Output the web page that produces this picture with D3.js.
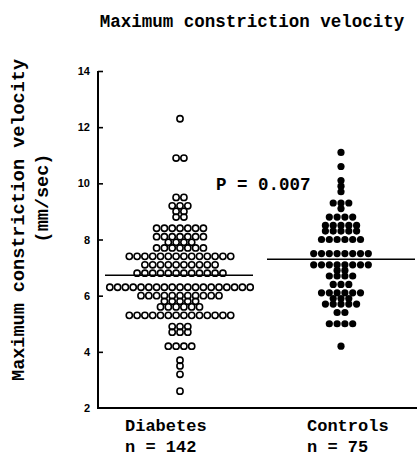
<!DOCTYPE html>
<html>
<head>
<meta charset="utf-8">
<script src="https://cdn.jsdelivr.net/npm/d3@7"></script>
<style>
  html, body { margin: 0; padding: 0; background: #fff; }
  svg { display: block; }
</style>
</head>
<body>
<svg id="chart" width="419" height="456"></svg>
<script>
// ---- data ----
const categories = ["Diabetes", "Controls"];
const sampleSizes = [142, 75];
const yTicks = [2, 4, 6, 8, 10, 12, 14];

// value levels (mm/sec) and how many subjects share each level
const diabetesLevels = [12.3, 10.9, 9.5, 9.2, 9.0, 8.8, 8.4, 8.1, 7.9, 7.7, 7.4, 7.1, 6.8, 6.3, 6.0, 5.8, 5.6, 5.3, 4.9, 4.7, 4.2, 3.7, 3.5, 3.2, 2.6];
const diabetesCounts = [1, 2, 2, 3, 2, 2, 7, 7, 4, 7, 14, 10, 12, 19, 11, 5, 6, 14, 3, 3, 4, 1, 1, 1, 1];

const controlLevels = [11.1, 10.6, 10.1, 9.9, 9.7, 9.3, 9.1, 8.8, 8.5, 8.3, 8.0, 7.5, 7.1, 6.9, 6.7, 6.4, 6.1, 5.9, 5.7, 5.4, 5.0, 4.2];
const controlCounts = [1, 1, 1, 1, 1, 3, 1, 4, 5, 5, 6, 8, 8, 2, 4, 3, 6, 3, 5, 2, 4, 1];

const groupMeans = [6.73, 7.3];
const pText = "P = 0.007";
const title = "Maximum constriction velocity";
const yTitle = "Maximum constriction velocity";
const yUnits = "(mm/sec)";

// ---- drawing ----
const svg = d3.select("#chart");
const mono = "'Liberation Mono', 'DejaVu Sans Mono', monospace";

const y = d3.scaleLinear().domain([2, 14]).range([408, 71]);
const x = d3.scalePoint().domain(categories).range([180, 341]);
const step = 7.8;

function expand(levels, counts) {
  const pts = [];
  levels.forEach((v, k) => {
    const n = counts[k];
    for (let i = 0; i < n; i++) pts.push({ v, off: (i - (n - 1) / 2) });
  });
  return pts;
}
const groups = [
  { cat: "Diabetes", pts: expand(diabetesLevels, diabetesCounts), filled: false },
  { cat: "Controls", pts: expand(controlLevels, controlCounts), filled: true }
];

// title
svg.append("text")
  .attr("x", 252).attr("y", 27)
  .attr("text-anchor", "middle")
  .attr("font-family", mono).attr("font-weight", "bold").attr("font-size", 17.5)
  .attr("fill", "#000")
  .text(title);

// y-axis
const axisX = 98;
const yAxis = d3.axisLeft(y).tickValues(yTicks).tickSize(-5).tickPadding(8).tickFormat(d3.format("d"));
const gy = svg.append("g").attr("transform", `translate(${axisX},0)`).call(yAxis);
gy.select(".domain").attr("stroke", "#000").attr("stroke-width", 2).attr("d", `M0,${y(14)}V${y(2)}`);
gy.selectAll(".tick line").attr("stroke", "#000").attr("stroke-width", 1.6);
gy.selectAll(".tick text")
  .attr("font-family", "'Liberation Sans', Arial, sans-serif")
  .attr("font-weight", "bold").attr("font-size", 11).attr("fill", "#000");
gy.selectAll(".tick").filter(d => d === 2).select("line").remove();

// x-axis baseline
svg.append("line")
  .attr("x1", axisX - 1).attr("x2", 417)
  .attr("y1", y(2)).attr("y2", y(2))
  .attr("stroke", "#000").attr("stroke-width", 2);

// y titles
svg.append("text")
  .attr("transform", `translate(24,${220}) rotate(-90)`)
  .attr("text-anchor", "middle")
  .attr("font-family", mono).attr("font-weight", "bold").attr("font-size", 18.5)
  .attr("fill", "#000")
  .text(yTitle);
svg.append("text")
  .attr("transform", `translate(48,${198}) rotate(-90)`)
  .attr("text-anchor", "middle")
  .attr("font-family", mono).attr("font-weight", "bold").attr("font-size", 18.5)
  .attr("fill", "#000")
  .text(yUnits);

// mean lines
const meanHalf = [74, 74];
const meanShift = [-1, 0];
svg.selectAll("line.mean").data(categories).enter().append("line")
  .attr("class", "mean")
  .attr("x1", (d, i) => x(d) + meanShift[i] - meanHalf[i])
  .attr("x2", (d, i) => x(d) + meanShift[i] + meanHalf[i] + (i === 1 ? 0 : 0))
  .attr("y1", (d, i) => y(groupMeans[i]))
  .attr("y2", (d, i) => y(groupMeans[i]))
  .attr("stroke", "#000").attr("stroke-width", 1.5);

// dots
groups.forEach(g => {
  svg.append("g").selectAll("circle").data(g.pts).enter().append("circle")
    .attr("cx", d => x(g.cat) + d.off * step)
    .attr("cy", d => y(d.v))
    .attr("r", g.filled ? 3.6 : 3.1)
    .attr("fill", g.filled ? "#000" : "none")
    .attr("stroke", "#000")
    .attr("stroke-width", g.filled ? 0 : 1.6);
});

// P value
svg.append("text")
  .attr("x", 216).attr("y", 190)
  .attr("font-family", mono).attr("font-size", 17.5).attr("font-weight", "bold")
  .attr("fill", "#000")
  .text(pText);

// category labels
const labelStart = [125, 307];
categories.forEach((c, i) => {
  svg.append("text")
    .attr("x", labelStart[i]).attr("y", 431)
    .attr("font-family", mono).attr("font-weight", "bold").attr("font-size", 17)
    .attr("fill", "#000")
    .text(c);
  svg.append("text")
    .attr("x", labelStart[i]).attr("y", 452)
    .attr("font-family", mono).attr("font-weight", "bold").attr("font-size", 17)
    .attr("fill", "#000")
    .text("n = " + sampleSizes[i]);
});
</script>
</body>
</html>
